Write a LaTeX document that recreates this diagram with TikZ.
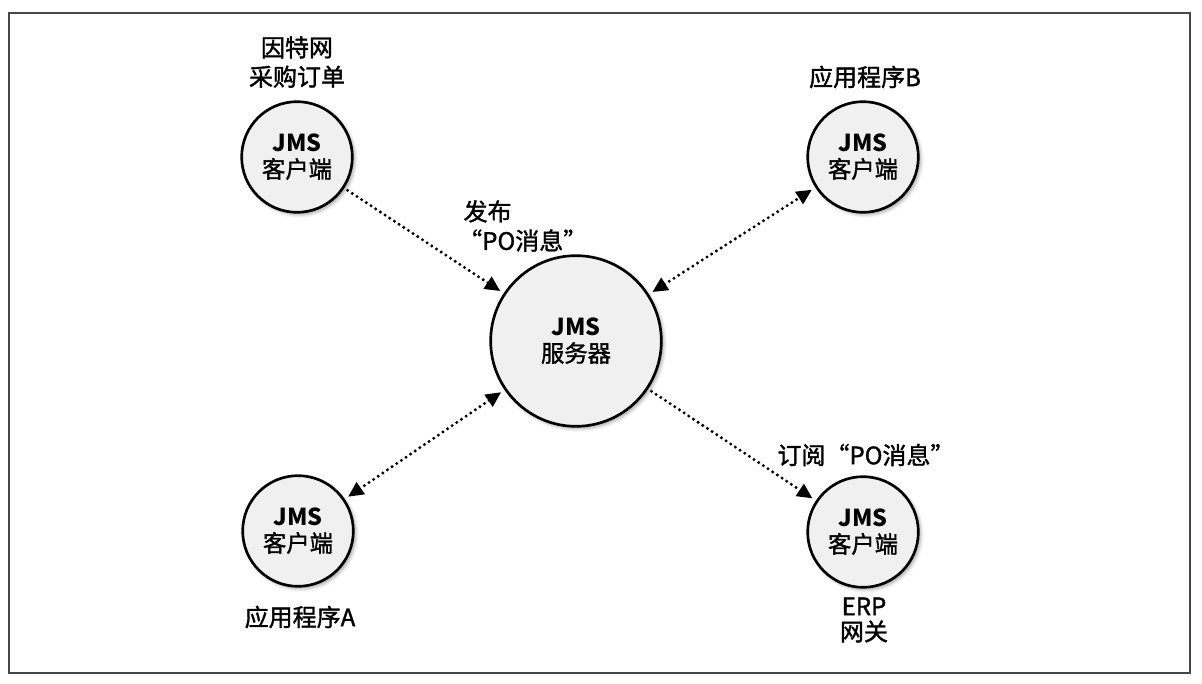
\documentclass[tikz,border=0pt]{standalone}
\usepackage{fontspec}
\setmainfont{Noto Sans CJK SC}[UprightFeatures={FakeBold=1.4}]
\usetikzlibrary{arrows.meta,shadows.blur}
\begin{document}
\begin{tikzpicture}[x=0.75pt,y=-0.75pt,
  client/.style={circle,draw=black,line width=2pt,fill=black!6,
    minimum size=83pt,inner sep=0pt,align=center,
    font=\fontsize{17.5}{19.5}\selectfont,
    blur shadow={shadow xshift=1.8pt,shadow yshift=-1.8pt,
      shadow blur radius=2.5pt,shadow opacity=35}},
  server/.style={client,minimum size=128pt},
  lbl/.style={align=center,inner sep=0pt,font=\fontsize{18}{22}\selectfont},
  flow/.style={line width=2.5pt,dash pattern=on 0pt off 4.2pt,line cap=round,
    shorten >=3pt,shorten <=3pt},
  head/.tip={Triangle[length=11.5pt,width=10.5pt]}
]
\useasboundingbox (0,0) rectangle (1202,684);
\draw[line width=1.6pt,draw=black!72] (9,13) rectangle (1190,673);

% clients and the message server
\node[client] (tl) at (297,157) {\textbf{JMS}\\客户端};
\node[client] (tr) at (863,157) {\textbf{JMS}\\客户端};
\node[client] (bl) at (298,531) {\textbf{JMS}\\客户端};
\node[client] (br) at (863,532) {\textbf{JMS}\\客户端};
\node[server] (srv) at (576,341) {\textbf{JMS}\\服务器};

% captions
\node[lbl] (tlcap) at (297,62) {因特网\\采购订单};
\node[lbl] (trcap) at (865,77) {应用程序B};
\node[lbl,align=left,anchor=west] (pub) at (458,226) {\hspace*{10\pgflinewidth}发布\\“PO消息”};
\node[lbl] (sub) at (866,455) {订阅“PO消息”};
\node[lbl] (blcap) at (300,617) {应用程序A};
\node[lbl,font=\fontsize{18}{19}\selectfont] (brcap) at (864,620) {ERP\\网关};

% message flows
\draw[flow,-head] (tl) -- (srv);
\draw[flow,head-head] (srv) -- (tr);
\draw[flow,head-head] (srv) -- (bl);
\draw[flow,-head] (srv) -- (br);
\end{tikzpicture}
\end{document}
